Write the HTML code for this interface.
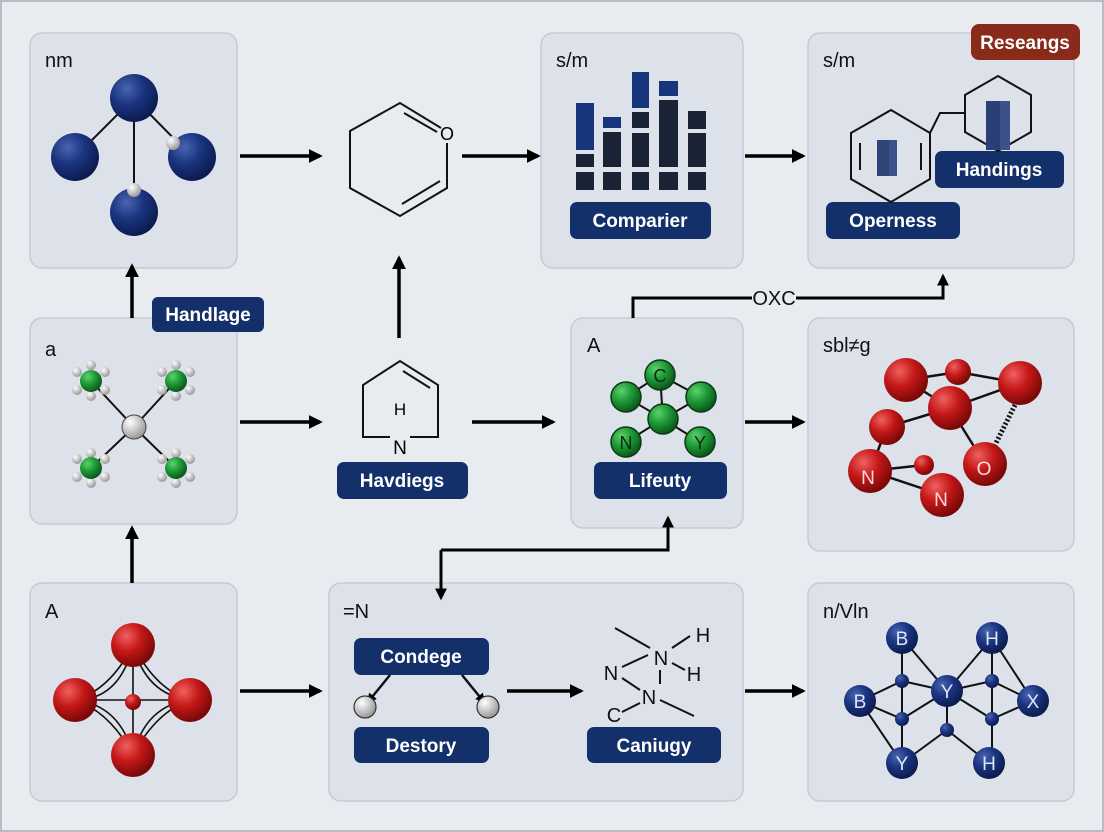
<!DOCTYPE html>
<html><head><meta charset="utf-8"><style>
html,body{margin:0;padding:0;background:#e8ebef;}
svg{display:block;font-family:"Liberation Sans",sans-serif;}
</style></head><body>
<svg width="1104" height="832" viewBox="0 0 1104 832" xmlns="http://www.w3.org/2000/svg">
<defs>
<radialGradient id="gb" cx="35%" cy="30%" r="70%"><stop offset="0" stop-color="#4a65b0"/><stop offset="0.5" stop-color="#1a3480"/><stop offset="1" stop-color="#0c1c50"/></radialGradient>
<radialGradient id="gr" cx="35%" cy="30%" r="70%"><stop offset="0" stop-color="#f06060"/><stop offset="0.5" stop-color="#c41818"/><stop offset="1" stop-color="#7a0808"/></radialGradient>
<radialGradient id="gg" cx="35%" cy="30%" r="70%"><stop offset="0" stop-color="#5fd070"/><stop offset="0.5" stop-color="#1e9a36"/><stop offset="1" stop-color="#0c5a1c"/></radialGradient>
<radialGradient id="gw" cx="35%" cy="30%" r="70%"><stop offset="0" stop-color="#ffffff"/><stop offset="1" stop-color="#9a9a9a"/></radialGradient>
<marker id="ah" viewBox="0 0 10 10" refX="8" refY="5" markerWidth="4" markerHeight="4" orient="auto"><path d="M0,0L10,5L0,10z" fill="#000"/></marker>
</defs>
<rect x="0" y="0" width="1104" height="832" fill="#e8ebef"/>
<rect x="1" y="1" width="1102" height="830" fill="none" stroke="#b8bcc2" stroke-width="2"/>
<g fill="#dde2ea" stroke="#c6cbd3" stroke-width="1.5">
<rect x="30" y="33" width="207" height="235" rx="12"/>
<rect x="541" y="33" width="202" height="235" rx="12"/>
<rect x="808" y="33" width="266" height="235" rx="12"/>
<rect x="30" y="318" width="207" height="206" rx="12"/>
<rect x="571" y="318" width="172" height="210" rx="12"/>
<rect x="808" y="318" width="266" height="233" rx="12"/>
<rect x="30" y="583" width="207" height="218" rx="12"/>
<rect x="329" y="583" width="414" height="218" rx="12"/>
<rect x="808" y="583" width="266" height="218" rx="12"/>
</g>
<g font-size="20" fill="#111">
<text x="45" y="67">nm</text><text x="556" y="67">s/m</text><text x="823" y="67">s/m</text>
<text x="45" y="356">a</text><text x="587" y="352">A</text><text x="823" y="352">sbl≠g</text>
<text x="45" y="618">A</text><text x="343" y="618">=N</text><text x="823" y="618">n/Vln</text>
</g>
<!-- arrows -->
<g stroke="#000" stroke-width="3.5" fill="none" marker-end="url(#ah)">
<line x1="240" y1="156" x2="320" y2="156"/><line x1="462" y1="156" x2="538" y2="156"/><line x1="745" y1="156" x2="803" y2="156"/>
<line x1="240" y1="422" x2="320" y2="422"/><line x1="472" y1="422" x2="553" y2="422"/><line x1="745" y1="422" x2="803" y2="422"/>
<line x1="240" y1="691" x2="320" y2="691"/><line x1="507" y1="691" x2="581" y2="691"/><line x1="745" y1="691" x2="803" y2="691"/>
<line x1="132" y1="318" x2="132" y2="266"/><line x1="132" y1="583" x2="132" y2="528"/><line x1="399" y1="338" x2="399" y2="258"/>
</g>
<g stroke="#000" stroke-width="3" fill="none">
<polyline points="633,318 633,298 752,298"/><polyline points="796,298 943,298 943,276" marker-end="url(#ah)"/>
<polyline points="441,550 668,550 668,518" marker-end="url(#ah)" stroke-width="3"/>
<polyline points="441,550 441,598" marker-end="url(#ah)"/>
</g>
<text x="774" y="305" font-size="20" text-anchor="middle" fill="#111">OXC</text>
<!-- pills -->
<g fill="#13306b">
<rect x="152" y="297" width="112" height="35" rx="6"/>
<rect x="570" y="202" width="141" height="37" rx="7"/>
<rect x="826" y="202" width="134" height="37" rx="7"/>
<rect x="935" y="151" width="129" height="37" rx="7"/>
<rect x="337" y="462" width="131" height="37" rx="7"/>
<rect x="594" y="462" width="133" height="37" rx="7"/>
<rect x="354" y="638" width="135" height="37" rx="7"/>
<rect x="354" y="727" width="135" height="36" rx="7"/>
<rect x="587" y="727" width="134" height="36" rx="7"/>
</g>
<rect x="971" y="24" width="109" height="36" rx="8" fill="#8a2a1a"/>
<g font-size="19" font-weight="bold" fill="#fff" text-anchor="middle">
<text x="208" y="321">Handlage</text><text x="640" y="227">Comparier</text><text x="893" y="227">Operness</text>
<text x="999" y="176">Handings</text><text x="402" y="487">Havdiegs</text><text x="660" y="487">Lifeuty</text>
<text x="421" y="663">Condege</text><text x="421" y="752">Destory</text><text x="654" y="752">Caniugy</text>
<text x="1025" y="49">Reseangs</text>
</g>
<!-- panel 1 molecule -->
<g stroke="#111" stroke-width="2"><line x1="134" y1="98" x2="75" y2="157"/><line x1="134" y1="98" x2="192" y2="157"/><line x1="134" y1="98" x2="134" y2="212"/></g>
<circle cx="134" cy="98" r="24" fill="url(#gb)"/><circle cx="75" cy="157" r="24" fill="url(#gb)"/><circle cx="192" cy="157" r="24" fill="url(#gb)"/><circle cx="134" cy="212" r="24" fill="url(#gb)"/>
<circle cx="173" cy="143" r="7" fill="url(#gw)"/><circle cx="134" cy="190" r="7" fill="url(#gw)"/>
<!-- hexagon 1 -->
<g stroke="#111" stroke-width="2" fill="none">
<polyline points="441,128 400,103 350,131 350,188 400,216 447,188 447,143"/>
<line x1="404" y1="113" x2="437" y2="132"/><line x1="402" y1="204" x2="440" y2="181"/>
</g>
<text x="447" y="140" font-size="18" text-anchor="middle">O</text>
<!-- bars -->
<g fill="#1a2236">
<rect x="576" y="154" width="18" height="13"/><rect x="576" y="172" width="18" height="18"/>
<rect x="603" y="132" width="18" height="35"/><rect x="603" y="172" width="18" height="18"/>
<rect x="632" y="112" width="17" height="16"/><rect x="632" y="133" width="17" height="34"/><rect x="632" y="172" width="17" height="18"/>
<rect x="659" y="100" width="19" height="67"/><rect x="659" y="172" width="19" height="18"/>
<rect x="688" y="111" width="18" height="18"/><rect x="688" y="133" width="18" height="34"/><rect x="688" y="172" width="18" height="18"/>
</g>
<g fill="#17357a"><rect x="576" y="103" width="18" height="47"/><rect x="603" y="117" width="18" height="11"/><rect x="632" y="72" width="17" height="36"/><rect x="659" y="81" width="19" height="15"/></g>
<!-- panel 3 -->
<g stroke="#111" stroke-width="2" fill="none">
<polygon points="891,110 930,133 930,179 891,202 851,179 851,133"/>
<polygon points="998,76 1031,95 1031,132 998,151 965,132 965,95"/>
<polyline points="930,133 940,113 965,113"/>
<line x1="860" y1="143" x2="860" y2="170"/><line x1="921" y1="143" x2="921" y2="170"/>
</g>
<rect x="877" y="140" width="20" height="36" fill="#3b518a"/><rect x="877" y="140" width="12" height="36" fill="#2f4477"/>
<rect x="986" y="101" width="24" height="49" fill="#3b518a"/><rect x="986" y="101" width="14" height="49" fill="#2a3f73"/>
<!-- row2 col1 -->
<g stroke="#111" stroke-width="2"><line x1="134" y1="427" x2="91" y2="381"/><line x1="134" y1="427" x2="176" y2="381"/><line x1="134" y1="427" x2="91" y2="468"/><line x1="134" y1="427" x2="176" y2="468"/></g>
<g fill="url(#gw)">
<circle cx="77" cy="372" r="5"/><circle cx="91" cy="365" r="5"/><circle cx="105" cy="372" r="5"/><circle cx="77" cy="390" r="5"/><circle cx="91" cy="396" r="5"/><circle cx="105" cy="390" r="5"/>
<circle cx="162" cy="372" r="5"/><circle cx="176" cy="365" r="5"/><circle cx="190" cy="372" r="5"/><circle cx="162" cy="390" r="5"/><circle cx="176" cy="396" r="5"/><circle cx="190" cy="390" r="5"/>
<circle cx="77" cy="459" r="5"/><circle cx="91" cy="453" r="5"/><circle cx="105" cy="459" r="5"/><circle cx="77" cy="477" r="5"/><circle cx="91" cy="483" r="5"/><circle cx="105" cy="477" r="5"/>
<circle cx="162" cy="459" r="5"/><circle cx="176" cy="453" r="5"/><circle cx="190" cy="459" r="5"/><circle cx="162" cy="477" r="5"/><circle cx="176" cy="483" r="5"/><circle cx="190" cy="477" r="5"/>
</g>
<circle cx="91" cy="381" r="11" fill="url(#gg)"/><circle cx="176" cy="381" r="11" fill="url(#gg)"/><circle cx="91" cy="468" r="11" fill="url(#gg)"/><circle cx="176" cy="468" r="11" fill="url(#gg)"/>
<circle cx="134" cy="427" r="12" fill="url(#gw)" stroke="#444" stroke-width="1"/>
<!-- row2 hexagon -->
<g stroke="#111" stroke-width="2" fill="none">
<polyline points="390,437 363,437 363,385 400,361 438,385 438,437 410,437"/>
<line x1="403" y1="371" x2="430" y2="388"/>
</g>
<text x="400" y="415" font-size="17" text-anchor="middle">H</text>
<text x="400" y="454" font-size="19" text-anchor="middle">N</text>
<!-- green molecule -->
<g stroke="#111" stroke-width="2"><line x1="660" y1="375" x2="626" y2="397"/><line x1="660" y1="375" x2="701" y2="397"/><line x1="660" y1="375" x2="663" y2="419"/><line x1="626" y1="397" x2="663" y2="419"/><line x1="701" y1="397" x2="663" y2="419"/><line x1="663" y1="419" x2="626" y2="442"/><line x1="663" y1="419" x2="700" y2="442"/></g>
<g fill="url(#gg)" stroke="#0b3a14" stroke-width="1.5">
<circle cx="660" cy="375" r="15"/><circle cx="626" cy="397" r="15"/><circle cx="701" cy="397" r="15"/><circle cx="663" cy="419" r="15"/><circle cx="626" cy="442" r="15"/><circle cx="700" cy="442" r="15"/>
</g>
<g font-size="18" fill="#0b2a10" text-anchor="middle"><text x="660" y="382">C</text><text x="626" y="449">N</text><text x="700" y="449">Y</text></g>
<!-- red cluster -->
<g stroke="#111" stroke-width="2.5"><line x1="906" y1="380" x2="958" y2="372"/><line x1="958" y1="372" x2="1020" y2="383"/><line x1="906" y1="380" x2="950" y2="408"/><line x1="950" y1="408" x2="1020" y2="383"/><line x1="887" y1="427" x2="950" y2="408"/><line x1="950" y1="408" x2="985" y2="464"/><line x1="887" y1="427" x2="870" y2="471"/><line x1="870" y1="471" x2="924" y2="465"/><line x1="870" y1="471" x2="942" y2="495"/><line x1="1015" y1="405" x2="995" y2="445" stroke-dasharray="2 2" stroke-width="5"/></g>
<line x1="906" y1="380" x2="887" y2="427" stroke="#ddd" stroke-width="3"/>
<g fill="url(#gr)">
<circle cx="906" cy="380" r="22"/><circle cx="958" cy="372" r="13"/><circle cx="1020" cy="383" r="22"/><circle cx="950" cy="408" r="22"/><circle cx="887" cy="427" r="18"/><circle cx="985" cy="464" r="22"/><circle cx="870" cy="471" r="22"/><circle cx="924" cy="465" r="10"/><circle cx="942" cy="495" r="22"/>
</g>
<g font-size="19" fill="#f2dede" text-anchor="middle"><text x="984" y="475">O</text><text x="868" y="484">N</text><text x="941" y="506">N</text></g>
<!-- row3 red -->
<g stroke="#111" stroke-width="1.6" fill="none">
<path d="M133,645 Q120,700 75,700 Q120,705 133,755 Q146,705 190,700 Q146,695 133,645Z"/>
<path d="M133,645 Q110,690 75,700 Q110,712 133,755 Q156,712 190,700 Q156,690 133,645Z"/>
<line x1="75" y1="700" x2="190" y2="700"/><line x1="133" y1="645" x2="133" y2="755"/>
</g>
<circle cx="133" cy="645" r="22" fill="url(#gr)"/><circle cx="75" cy="700" r="22" fill="url(#gr)"/><circle cx="190" cy="700" r="22" fill="url(#gr)"/><circle cx="133" cy="755" r="22" fill="url(#gr)"/><circle cx="133" cy="702" r="8" fill="url(#gr)"/>
<!-- condege arrows -->
<g stroke="#111" stroke-width="2.5" marker-end="url(#ah)"><line x1="390" y1="675" x2="368" y2="702"/><line x1="462" y1="675" x2="484" y2="702"/></g>
<circle cx="365" cy="707" r="11" fill="url(#gw)" stroke="#333" stroke-width="1.2"/><circle cx="488" cy="707" r="11" fill="url(#gw)" stroke="#333" stroke-width="1.2"/>
<!-- caniugy structure -->
<g stroke="#111" stroke-width="2"><line x1="615" y1="628" x2="650" y2="648"/><line x1="672" y1="648" x2="690" y2="636"/><line x1="672" y1="663" x2="685" y2="670"/><line x1="660" y1="670" x2="660" y2="684"/><line x1="622" y1="667" x2="648" y2="655"/><line x1="622" y1="678" x2="640" y2="690"/><line x1="622" y1="712" x2="640" y2="703"/><line x1="660" y1="700" x2="694" y2="716"/></g>
<g font-size="20" fill="#111" text-anchor="middle"><text x="661" y="665">N</text><text x="649" y="704">N</text><text x="611" y="680">N</text><text x="614" y="722">C</text><text x="703" y="642">H</text><text x="694" y="681">H</text></g>
<!-- blue network -->
<g stroke="#111" stroke-width="2"><line x1="902" y1="638" x2="902" y2="763"/><line x1="992" y1="638" x2="992" y2="763"/><line x1="902" y1="638" x2="947" y2="691"/><line x1="992" y1="638" x2="947" y2="691"/><line x1="992" y1="638" x2="1033" y2="701"/><line x1="860" y1="701" x2="902" y2="681"/><line x1="860" y1="701" x2="902" y2="719"/><line x1="860" y1="701" x2="902" y2="763"/><line x1="902" y1="681" x2="947" y2="691"/><line x1="902" y1="719" x2="947" y2="691"/><line x1="947" y1="691" x2="992" y2="681"/><line x1="947" y1="691" x2="992" y2="719"/><line x1="1033" y1="701" x2="992" y2="681"/><line x1="1033" y1="701" x2="992" y2="719"/><line x1="947" y1="691" x2="947" y2="730"/><line x1="902" y1="763" x2="947" y2="730"/><line x1="989" y1="763" x2="947" y2="730"/></g>
<g fill="url(#gb)"><circle cx="902" cy="681" r="7"/><circle cx="902" cy="719" r="7"/><circle cx="992" cy="681" r="7"/><circle cx="992" cy="719" r="7"/><circle cx="947" cy="730" r="7"/>
<circle cx="902" cy="638" r="16"/><circle cx="992" cy="638" r="16"/><circle cx="860" cy="701" r="16"/><circle cx="947" cy="691" r="16"/><circle cx="1033" cy="701" r="16"/><circle cx="902" cy="763" r="16"/><circle cx="989" cy="763" r="16"/></g>
<g font-size="19" fill="#dfe6f5" text-anchor="middle"><text x="902" y="645">B</text><text x="992" y="645">H</text><text x="860" y="708">B</text><text x="947" y="698">Y</text><text x="1033" y="708">X</text><text x="902" y="770">Y</text><text x="989" y="770">H</text></g>
</svg>
</body></html>
